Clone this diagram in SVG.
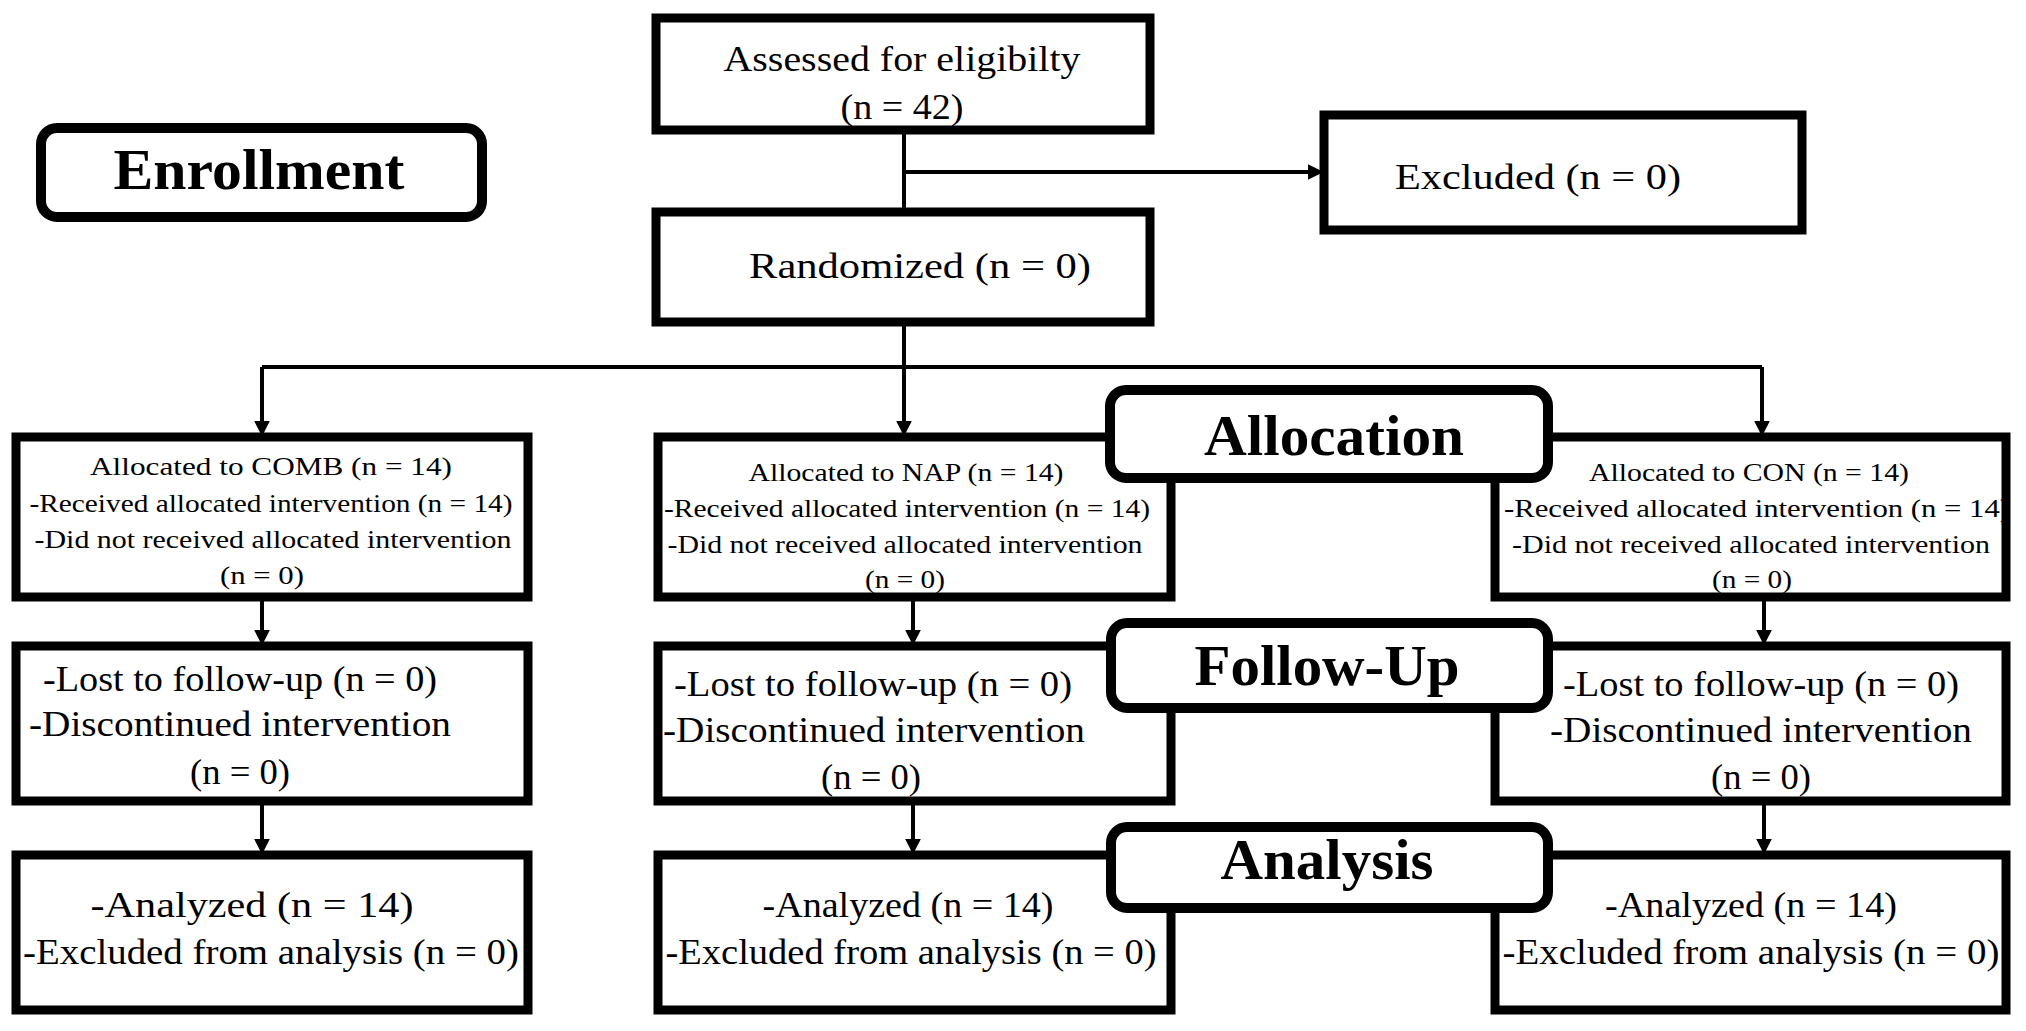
<svg xmlns="http://www.w3.org/2000/svg" width="2026" height="1031" viewBox="0 0 2026 1031">
<style>
.b{fill:#fff;stroke:#000;stroke-width:9}
.t{fill:#fff;stroke:#000;stroke-width:10}
text{font-family:"Liberation Serif","Times New Roman",serif;text-anchor:middle;fill:#000}
.m{font-size:36px}
.s{font-size:26px}
.h{font-size:56px;font-weight:bold}
.c{fill:none;stroke:#000;stroke-width:4}
</style>
<defs><marker id="a" viewBox="0 0 10 10" refX="9" refY="5" markerWidth="4" markerHeight="4" orient="auto"><path d="M0,0L10,5L0,10z" fill="#000"/></marker></defs>
<g id="connectors">
<path class="c" d="M904,130V212"/>
<path class="c" d="M904,172H1322" marker-end="url(#a)"/>
<path class="c" d="M904,322V367M262,367H1762"/>
<path class="c" d="M262,367V435" marker-end="url(#a)"/>
<path class="c" d="M904,322V435" marker-end="url(#a)"/>
<path class="c" d="M1762,367V435" marker-end="url(#a)"/>
<path class="c" d="M262,597V644" marker-end="url(#a)"/>
<path class="c" d="M913,597V644" marker-end="url(#a)"/>
<path class="c" d="M1764,597V644" marker-end="url(#a)"/>
<path class="c" d="M262,801V853" marker-end="url(#a)"/>
<path class="c" d="M913,801V853" marker-end="url(#a)"/>
<path class="c" d="M1764,801V853" marker-end="url(#a)"/>
</g>
<g id="assessed"><rect class="b" x="656" y="18" width="494" height="112"/><text class="m" x="902" y="71" textLength="357" lengthAdjust="spacingAndGlyphs">Assessed for eligibilty</text><text class="m" x="902" y="119" textLength="123" lengthAdjust="spacingAndGlyphs">(n = 42)</text></g>
<g id="enrollment"><rect class="t" x="41" y="128" width="441" height="89" rx="16"/><text class="h" x="259" y="189" textLength="291" lengthAdjust="spacingAndGlyphs">Enrollment</text></g>
<g id="excluded"><rect class="b" x="1324" y="115" width="478" height="115"/><text class="m" x="1538" y="189" textLength="286" lengthAdjust="spacingAndGlyphs">Excluded (n = 0)</text></g>
<g id="randomized"><rect class="b" x="656" y="212" width="494" height="110"/><text class="m" x="920" y="278" textLength="342" lengthAdjust="spacingAndGlyphs">Randomized (n = 0)</text></g>
<g id="alloc-comb"><rect class="b" x="16" y="437" width="512" height="160"/>
<text class="s" x="271" y="475" textLength="362" lengthAdjust="spacingAndGlyphs">Allocated to COMB (n = 14)</text>
<text class="s" x="271" y="512" textLength="483" lengthAdjust="spacingAndGlyphs">-Received allocated intervention (n = 14)</text>
<text class="s" x="273" y="548" textLength="477" lengthAdjust="spacingAndGlyphs">-Did not received allocated intervention</text>
<text class="s" x="262" y="584" textLength="84" lengthAdjust="spacingAndGlyphs">(n = 0)</text></g>
<g id="alloc-nap"><rect class="b" x="658" y="437" width="513" height="160"/>
<text class="s" x="906" y="481" textLength="315" lengthAdjust="spacingAndGlyphs">Allocated to NAP (n = 14)</text>
<text class="s" x="907" y="517" textLength="486" lengthAdjust="spacingAndGlyphs">-Received allocated intervention (n = 14)</text>
<text class="s" x="905" y="553" textLength="475" lengthAdjust="spacingAndGlyphs">-Did not received allocated intervention</text>
<text class="s" x="905" y="588" textLength="80" lengthAdjust="spacingAndGlyphs">(n = 0)</text></g>
<g id="alloc-con"><rect class="b" x="1495" y="437" width="511" height="160"/>
<text class="s" x="1749" y="481" textLength="320" lengthAdjust="spacingAndGlyphs">Allocated to CON (n = 14)</text>
<text class="s" x="1757" y="517" textLength="506" lengthAdjust="spacingAndGlyphs">-Received allocated intervention (n = 14)</text>
<text class="s" x="1751" y="553" textLength="478" lengthAdjust="spacingAndGlyphs">-Did not received allocated intervention</text>
<text class="s" x="1752" y="588" textLength="80" lengthAdjust="spacingAndGlyphs">(n = 0)</text></g>
<g id="fu-comb"><rect class="b" x="16" y="646" width="512" height="155"/>
<text class="m" x="240" y="691" textLength="394" lengthAdjust="spacingAndGlyphs">-Lost to follow-up (n = 0)</text>
<text class="m" x="240" y="736" textLength="422" lengthAdjust="spacingAndGlyphs">-Discontinued  intervention</text>
<text class="m" x="240" y="784" textLength="100" lengthAdjust="spacingAndGlyphs">(n = 0)</text></g>
<g id="fu-nap"><rect class="b" x="658" y="646" width="513" height="155"/>
<text class="m" x="873" y="696" textLength="398" lengthAdjust="spacingAndGlyphs">-Lost to follow-up (n = 0)</text>
<text class="m" x="874" y="742" textLength="422" lengthAdjust="spacingAndGlyphs">-Discontinued  intervention</text>
<text class="m" x="871" y="789" textLength="100" lengthAdjust="spacingAndGlyphs">(n = 0)</text></g>
<g id="fu-con"><rect class="b" x="1495" y="646" width="511" height="155"/>
<text class="m" x="1761" y="696" textLength="396" lengthAdjust="spacingAndGlyphs">-Lost to follow-up (n = 0)</text>
<text class="m" x="1761" y="742" textLength="422" lengthAdjust="spacingAndGlyphs">-Discontinued  intervention</text>
<text class="m" x="1761" y="789" textLength="100" lengthAdjust="spacingAndGlyphs">(n = 0)</text></g>
<g id="an-comb"><rect class="b" x="16" y="855" width="512" height="155"/>
<text class="m" x="252" y="917" textLength="323" lengthAdjust="spacingAndGlyphs">-Analyzed (n = 14)</text>
<text class="m" x="271" y="964" textLength="496" lengthAdjust="spacingAndGlyphs">-Excluded from  analysis (n = 0)</text></g>
<g id="an-nap"><rect class="b" x="658" y="855" width="513" height="155"/>
<text class="m" x="908" y="917" textLength="291" lengthAdjust="spacingAndGlyphs">-Analyzed (n = 14)</text>
<text class="m" x="911" y="964" textLength="491" lengthAdjust="spacingAndGlyphs">-Excluded from  analysis (n = 0)</text></g>
<g id="an-con"><rect class="b" x="1495" y="855" width="511" height="155"/>
<text class="m" x="1751" y="917" textLength="292" lengthAdjust="spacingAndGlyphs">-Analyzed (n = 14)</text>
<text class="m" x="1751" y="964" textLength="497" lengthAdjust="spacingAndGlyphs">-Excluded from  analysis (n = 0)</text></g>
<g id="allocation"><rect class="t" x="1110" y="390" width="438" height="88" rx="16"/><text class="h" x="1334" y="455" textLength="260" lengthAdjust="spacingAndGlyphs">Allocation</text></g>
<g id="followup"><rect class="t" x="1111" y="623" width="437" height="85" rx="16"/><text class="h" x="1327" y="685" textLength="265" lengthAdjust="spacingAndGlyphs">Follow-Up</text></g>
<g id="analysis"><rect class="t" x="1111" y="827" width="437" height="81" rx="16"/><text class="h" x="1327" y="879" textLength="213" lengthAdjust="spacingAndGlyphs">Analysis</text></g>
</svg>
